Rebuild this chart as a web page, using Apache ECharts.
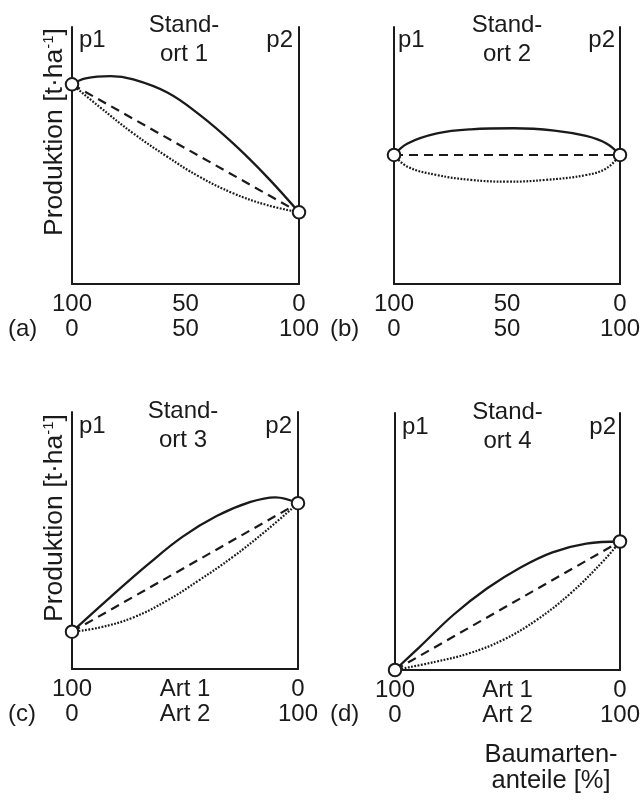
<!DOCTYPE html>
<html>
<head>
<meta charset="utf-8">
<script src="https://cdn.jsdelivr.net/npm/echarts@6/dist/echarts.min.js"></script>
<style>
  html, body { margin: 0; padding: 0; background: #fff; }
  #chart { width: 644px; height: 801px; }
</style>
</head>
<body>
<div id="chart"></div>
<script>
// Share of species 2 (%) on the x axis, production (relative units) on the y axis.
// Panel a: Standort 1
const s1SolidX  = [0, 6, 17, 27, 42, 56, 71, 86, 100];
const s1SolidY  = [77.7, 80.0, 80.9, 79.6, 74.5, 66.0, 54.7, 41.6, 27.9];
const s1DashX   = [0, 100];
const s1DashY   = [77.7, 27.9];
const s1DotX    = [0, 12, 27, 42, 56, 71, 86, 100];
const s1DotY    = [77.7, 69.0, 58.6, 49.5, 41.8, 35.3, 30.7, 27.9];

// Panel b: Standort 2
const s2SolidX  = [0, 6, 19, 34, 53, 71, 85, 94, 100];
const s2SolidY  = [50.2, 54.7, 58.6, 60.2, 60.6, 59.7, 57.6, 54.7, 50.2];
const s2DashX   = [0, 100];
const s2DashY   = [50.2, 50.2];
const s2DotX    = [0, 6, 19, 34, 50, 67, 85, 94, 100];
const s2DotY    = [50.2, 45.6, 42.4, 40.5, 39.8, 40.5, 42.4, 45.0, 50.2];

// Panel c: Standort 3
const s3SolidX  = [0, 17, 34, 49, 64, 79, 90, 100];
const s3SolidY  = [14.5, 28.0, 41.0, 51.5, 59.5, 65.0, 66.8, 64.5];
const s3DashX   = [0, 100];
const s3DashY   = [14.5, 64.5];
const s3DotX    = [0, 12, 27, 42, 56, 71, 86, 100];
const s3DotY    = [14.5, 16.1, 20.0, 26.6, 34.4, 43.5, 53.9, 64.5];

// Panel d: Standort 4
const s4SolidX  = [0, 11, 26, 41, 56, 70, 85, 100];
const s4SolidY  = [0, 9.0, 21.5, 31.8, 40.0, 45.8, 49.2, 50.0];
const s4DashX   = [0, 100];
const s4DashY   = [0, 50.0];
const s4DotX    = [0, 18, 33, 48, 63, 78, 93, 100];
const s4DotY    = [0, 3.2, 6.5, 11.7, 19.5, 29.8, 42.8, 50.0];

// Tick labels (two rows: species 1 share above, species 2 share below)
const tickValues     = [0, 50, 100];
const topRowNumbers  = ['100', '50', '0'];
const botRowNumbers  = ['0', '50', '100'];
const topRowSpecies  = ['100', 'Art 1', '0'];
const botRowSpecies  = ['0', 'Art 2', '100'];

const panelLetters = ['(a)', '(b)', '(c)', '(d)'];
const siteTitles   = ['Stand-\nort 1', 'Stand-\nort 2', 'Stand-\nort 3', 'Stand-\nort 4'];
const yAxisTitle   = 'Produktion [t·ha{sup|-1}]';
const xAxisTitle   = 'Baumarten-\nanteile [%]';

const FONT = '"Liberation Sans", Arial, Helvetica, sans-serif';
const INK = '#1a1a1a';

const panels = [
  { solid: [s1SolidX, s1SolidY], dash: [s1DashX, s1DashY], dot: [s1DotX, s1DotY], top: topRowNumbers, bot: botRowNumbers },
  { solid: [s2SolidX, s2SolidY], dash: [s2DashX, s2DashY], dot: [s2DotX, s2DotY], top: topRowNumbers, bot: botRowNumbers },
  { solid: [s3SolidX, s3SolidY], dash: [s3DashX, s3DashY], dot: [s3DotX, s3DotY], top: topRowSpecies, bot: botRowSpecies },
  { solid: [s4SolidX, s4SolidY], dash: [s4DashX, s4DashY], dot: [s4DotX, s4DotY], top: topRowSpecies, bot: botRowSpecies }
];

const grids = [
  { left: 72,  top: 27,  width: 227, height: 257 },
  { left: 394, top: 27,  width: 226, height: 257 },
  { left: 72,  top: 412, width: 226, height: 257 },
  { left: 395, top: 413, width: 225, height: 257 }
];

const zip = (xs, ys) => xs.map((x, i) => [x, ys[i]]);

const axisLine = { show: true, onZero: false, lineStyle: { color: INK, width: 2 } };

const xAxes = [], yAxes = [], series = [];
panels.forEach((p, i) => {
  xAxes.push({
    type: 'value', gridIndex: i, min: 0, max: 100, interval: 50,
    axisLine: axisLine, axisTick: { show: false }, splitLine: { show: false },
    axisLabel: {
      margin: 8, fontSize: 24, lineHeight: 25, color: INK, fontFamily: FONT,
      showMinLabel: true, showMaxLabel: true,
      formatter: v => {
        const k = tickValues.indexOf(v);
        return k < 0 ? '' : p.top[k] + '\n' + p.bot[k];
      }
    }
  });
  ['left', 'right'].forEach(pos => {
    yAxes.push({
      type: 'value', gridIndex: i, min: 0, max: 100, position: pos,
      axisLine: axisLine, axisTick: { show: false }, splitLine: { show: false },
      axisLabel: { show: false }
    });
  });
  const yIdx = i * 2;
  series.push({
    type: 'line', xAxisIndex: i, yAxisIndex: yIdx, data: zip(p.dot[0], p.dot[1]),
    symbol: 'none', smooth: 0.4,
    lineStyle: { color: '#1a1a1a', width: 2.2, type: [1.8, 1.5] }
  });
  series.push({
    type: 'line', xAxisIndex: i, yAxisIndex: yIdx, data: zip(p.dash[0], p.dash[1]),
    symbol: 'none',
    lineStyle: { color: INK, width: 2.2, type: [9, 6] }
  });
  series.push({
    type: 'line', xAxisIndex: i, yAxisIndex: yIdx, data: zip(p.solid[0], p.solid[1]),
    symbol: 'none', smooth: 0.4,
    lineStyle: { color: INK, width: 2.3 }
  });
  // open circles marking the pure stands
  const xs = p.solid[0], ys = p.solid[1];
  series.push({
    type: 'scatter', xAxisIndex: i, yAxisIndex: yIdx, clip: false, z: 10,
    data: [[xs[0], ys[0]], [xs[xs.length - 1], ys[ys.length - 1]]],
    symbol: 'circle', symbolSize: 12.5,
    itemStyle: { color: '#fff', borderColor: INK, borderWidth: 2, opacity: 1 }
  });
});

function txt(x, y, text, align, size, lh) {
  return {
    type: 'text', x: x, y: y, z: 100,
    style: {
      text: text, font: (size || 24) + 'px ' + FONT, fill: INK,
      align: align, verticalAlign: 'middle',
      textAlign: align, textVerticalAlign: 'middle',
      lineHeight: lh || 29
    }
  };
}

const graphics = [];
// per-panel header: p1, site name, p2
const headerPos = [
  { p1: 79,  mid: 184,   p2: 293, base: 0 },
  { p1: 398, mid: 507,   p2: 615, base: 0 },
  { p1: 79,  mid: 183,   p2: 292, base: 386 },
  { p1: 402, mid: 507.5, p2: 616, base: 387 }
];
headerPos.forEach((h, i) => {
  graphics.push(txt(h.p1, h.base + 40, 'p1', 'left'));
  graphics.push(txt(h.p2, h.base + 40, 'p2', 'right'));
  graphics.push(txt(h.mid, h.base + 40, siteTitles[i], 'center'));
});
// panel letters
graphics.push(txt(8,   329, panelLetters[0], 'left'));
graphics.push(txt(330, 329, panelLetters[1], 'left'));
graphics.push(txt(8,   714, panelLetters[2], 'left'));
graphics.push(txt(330, 714, panelLetters[3], 'left'));
// y axis titles (left column)
[132, 518].forEach(cy => {
  graphics.push({
    type: 'text', x: 55, y: cy, rotation: Math.PI / 2, z: 100,
    style: {
      text: yAxisTitle, font: '26.5px ' + FONT, fill: INK,
      align: 'center', verticalAlign: 'middle',
      textAlign: 'center', textVerticalAlign: 'middle',
      rich: {
        sup: { fontSize: 15, fontFamily: FONT, fill: INK, color: INK, verticalAlign: 'top', lineHeight: 26, padding: [0, 0, 9, 0] }
      }
    }
  });
});
// x axis title
graphics.push(txt(551, 768, xAxisTitle, 'center', 25.5, 26));

const chart = echarts.init(document.getElementById('chart'), null, { renderer: 'canvas' });
chart.setOption({
  animation: false,
  backgroundColor: '#fff',
  textStyle: { fontFamily: FONT },
  grid: grids,
  xAxis: xAxes,
  yAxis: yAxes,
  series: series,
  graphic: graphics
});
</script>
</body>
</html>
